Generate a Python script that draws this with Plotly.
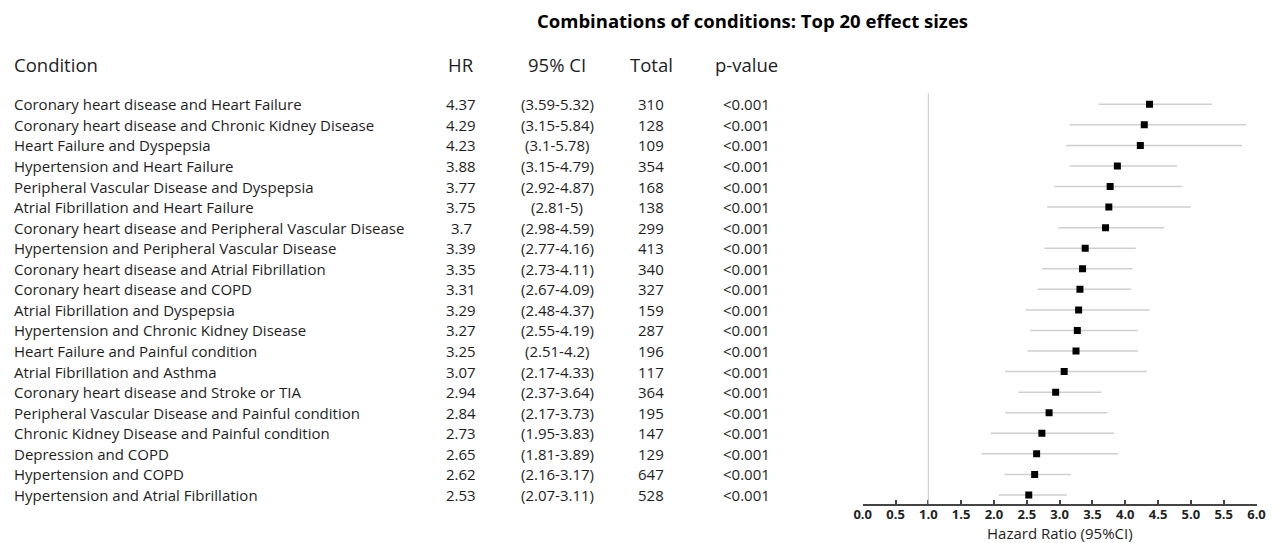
import plotly.graph_objects as go

conditions = [
    "Coronary heart disease and Heart Failure",
    "Coronary heart disease and Chronic Kidney Disease",
    "Heart Failure and Dyspepsia",
    "Hypertension and Heart Failure",
    "Peripheral Vascular Disease and Dyspepsia",
    "Atrial Fibrillation and Heart Failure",
    "Coronary heart disease and Peripheral Vascular Disease",
    "Hypertension and Peripheral Vascular Disease",
    "Coronary heart disease and Atrial Fibrillation",
    "Coronary heart disease and COPD",
    "Atrial Fibrillation and Dyspepsia",
    "Hypertension and Chronic Kidney Disease",
    "Heart Failure and Painful condition",
    "Atrial Fibrillation and Asthma",
    "Coronary heart disease and Stroke or TIA",
    "Peripheral Vascular Disease and Painful condition",
    "Chronic Kidney Disease and Painful condition",
    "Depression and COPD",
    "Hypertension and COPD",
    "Hypertension and Atrial Fibrillation",
]
hr = [4.37, 4.29, 4.23, 3.88, 3.77, 3.75, 3.7, 3.39, 3.35, 3.31,
      3.29, 3.27, 3.25, 3.07, 2.94, 2.84, 2.73, 2.65, 2.62, 2.53]
ci_low = [3.59, 3.15, 3.1, 3.15, 2.92, 2.81, 2.98, 2.77, 2.73, 2.67,
          2.48, 2.55, 2.51, 2.17, 2.37, 2.17, 1.95, 1.81, 2.16, 2.07]
ci_high = [5.32, 5.84, 5.78, 4.79, 4.87, 5, 4.59, 4.16, 4.11, 4.09,
           4.37, 4.19, 4.2, 4.33, 3.64, 3.73, 3.83, 3.89, 3.17, 3.11]
totals = [310, 128, 109, 354, 168, 138, 299, 413, 340, 327,
          159, 287, 196, 117, 364, 195, 147, 129, 647, 528]
pvalues = ["<0.001"] * 20
x_ticks = [0.0, 0.5, 1.0, 1.5, 2.0, 2.5, 3.0, 3.5, 4.0, 4.5, 5.0, 5.5, 6.0]

# the page body adds an 8px offset; figure positions are expressed in page px
OFF = 8
W, H = 1283 - OFF, 543 - OFF
FONT = "Open Sans"
TXT = "#1e1e1e"


def px(X):
    return (X - OFF) / W


def py(Y):
    return 1 - (Y - OFF) / H


rows = list(range(len(conditions)))

fig = go.Figure()
fig.add_trace(go.Scatter(
    x=hr, y=rows, mode="markers",
    marker=dict(symbol="square", size=7, color="black"),
    error_x=dict(type="data", symmetric=False,
                 array=[h - m for h, m in zip(ci_high, hr)],
                 arrayminus=[m - l for m, l in zip(hr, ci_low)],
                 color="#cfcfcf", thickness=1.5, width=0),
    showlegend=False, hoverinfo="skip",
))

# vertical reference line at HR = 1
fig.add_shape(type="line", xref="x", yref="paper", x0=1, x1=1,
              y0=py(504), y1=py(93),
              line=dict(color="#c8c8c8", width=1))

ann = []
col_x = {"cond": 12, "hr": 461, "ci": 557, "tot": 651, "p": 746}
for i in rows:
    ci_txt = f"({ci_low[i]:g}-{ci_high[i]:g})"
    for key, txt in [("cond", conditions[i]), ("hr", f"{hr[i]:g}"),
                     ("ci", ci_txt), ("tot", str(totals[i])), ("p", pvalues[i])]:
        ann.append(dict(xref="paper", yref="y", x=px(col_x[key]), y=i,
                        text=txt, showarrow=False,
                        xanchor="left" if key == "cond" else "center",
                        yanchor="middle",
                        font=dict(family=FONT, size=15, color=TXT)))

for key, txt in [("cond", "Condition"), ("hr", "HR"), ("ci", "95% CI"),
                 ("tot", "Total"), ("p", "p-value")]:
    ann.append(dict(xref="paper", yref="paper", x=px(col_x[key]), y=py(64),
                    text=txt, showarrow=False,
                    xanchor="left" if key == "cond" else "center",
                    yanchor="middle",
                    font=dict(family=FONT, size=18.5, color=TXT)))

ann.append(dict(xref="paper", yref="paper", x=px(752), y=py(21),
                text="<b>Combinations of conditions: Top 20 effect sizes</b>",
                showarrow=False, xanchor="center", yanchor="middle",
                font=dict(family=FONT, size=18.5, color="black")))

ann.append(dict(xref="paper", yref="paper", x=px(1060), y=py(533),
                text="Hazard Ratio (95%CI)", borderpad=0,
                showarrow=False, xanchor="center", yanchor="middle",
                font=dict(family=FONT, size=15, color=TXT)))

fig.update_layout(
    width=W, height=H,
    margin=dict(l=0, r=0, t=0, b=0, autoexpand=False),
    paper_bgcolor="white", plot_bgcolor="white",
    annotations=ann,
    xaxis=dict(domain=[px(862.7), px(1256.5)], range=[0, 6],
               automargin=False,
               tickvals=x_ticks, ticktext=[f"<b>{v:.1f}</b>" for v in x_ticks],
               showgrid=False, zeroline=False,
               showline=True, linecolor="#444", linewidth=1.5,
               ticks="inside", ticklen=4, tickwidth=1.5, tickcolor="#444",
               ticklabelstandoff=-2,
               tickfont=dict(family=FONT, size=13, color="#222")),
    yaxis=dict(domain=[py(504), py(93)], automargin=False,
               range=[19.44, -0.55], visible=False,
               showgrid=False, zeroline=False),
)

fig.write_html("out.html")
